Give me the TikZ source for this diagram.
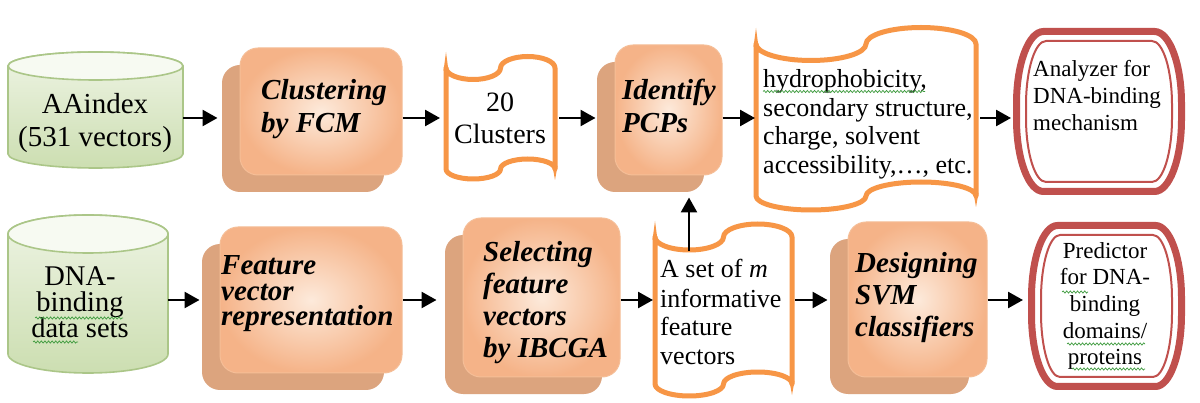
\documentclass[tikz,border=0pt]{standalone}
\usepackage{fontspec}
\setmainfont{Liberation Serif}
\usetikzlibrary{arrows.meta,shadows,decorations.pathmorphing}
\definecolor{peachIn}{HTML}{FDEADB}
\definecolor{peachOut}{HTML}{F5B388}
\definecolor{peachEdge}{HTML}{F5BE97}
\definecolor{shadowTan}{HTML}{DCA47E}
\definecolor{tapeOr}{HTML}{F79646}
\definecolor{redB}{HTML}{C0504D}
\definecolor{cylTop}{HTML}{EEF4E4}
\definecolor{cylBot}{HTML}{CCDEB1}
\definecolor{cylEdge}{HTML}{ABC688}
\definecolor{cylLid}{HTML}{F7FAF2}
\definecolor{spell}{HTML}{3C9A3C}

% cylinder: x0, x1, ytop, ybottom, ry
\newcommand\cylshape[5]{%
  \pgfmathsetmacro\ccx{(#1+#2)/2}%
  \pgfmathsetmacro\crx{(#2-#1)/2}%
  \pgfmathsetmacro\cyA{#3+#5}%
  \pgfmathsetmacro\cyB{#4-#5}%
  \path[draw=cylEdge,line width=1.6pt,top color=cylTop,bottom color=cylBot]
    (#1,\cyA) -- (#1,\cyB) arc[start angle=180,end angle=360,x radius=\crx pt,y radius=#5pt]
    -- (#2,\cyA) arc[start angle=0,end angle=180,x radius=\crx pt,y radius=#5pt] -- cycle;
  \path[draw=cylEdge,line width=1.6pt,fill=cylLid]
    (\ccx,\cyA) ellipse[x radius=\crx pt,y radius=#5pt];
}
% punched tape: x0, x1, ytop, ybottom, top amplitude, bottom amplitude
\newcommand\tapeshape[6]{%
  \pgfmathsetmacro\tq{(#2-#1)/4}%
  \draw[tapeOr,line width=5pt,line join=round]
    (#1,#3) arc[start angle=180,end angle=360,x radius=\tq pt,y radius=#5pt]
    arc[start angle=180,end angle=0,x radius=\tq pt,y radius=#5pt]
    -- (#2,#4) arc[start angle=0,end angle=180,x radius=\tq pt,y radius=#6pt]
    arc[start angle=0,end angle=-180,x radius=\tq pt,y radius=#6pt] -- cycle;
  \fill[tapeOr] (#1-2.5,#3+3) -- (#1,#3-16) -- (#1+2.5,#3+3) -- cycle;
  \fill[tapeOr] (#2-2.5,#4-3) -- (#2,#4+11) -- (#2+2.5,#4-3) -- cycle;
}
% barrel outline: style, x0, y0, x1, y1, rx, ry
\newcommand\barrelshape[7]{%
  \draw[#1] (#2+#6,#3) -- (#4-#6,#3)
    arc[start angle=90,end angle=0,x radius=#6pt,y radius=#7pt] -- (#4,#5-#7)
    arc[start angle=0,end angle=-90,x radius=#6pt,y radius=#7pt] -- (#2+#6,#5)
    arc[start angle=270,end angle=180,x radius=#6pt,y radius=#7pt] -- (#2,#3+#7)
    arc[start angle=180,end angle=90,x radius=#6pt,y radius=#7pt] -- cycle;
}

\begin{document}
\begin{tikzpicture}[x=1pt,y=-1pt,
  arr/.style={line width=2.6pt,-{Triangle[length=15pt,width=16pt]}},
  frontbox/.style={rounded corners=18pt,inner color=peachIn,outer color=peachOut,
    draw=peachEdge,line width=1pt,inner sep=0pt,
    general shadow={fill=shadowTan,shadow xshift=-18pt,shadow yshift=-17pt}},
  region/.style={inner sep=0pt,outer sep=0pt},
  boxtxt/.style={inner sep=0pt,anchor=base west,align=left,
    font=\bfseries\itshape\fontsize{29}{#1}\selectfont},
  spellwave/.style={draw=spell,line width=0.7pt,decorate,
    decoration={snake,amplitude=1.1pt,segment length=3.6pt}}]

\fill[white] (0,0) rectangle (1200,403);
\useasboundingbox (0,0) rectangle (1200,403);

% (text nodes are anchored at the baseline of their LAST line)
% ---------- top row ----------
\cylshape{8}{183}{52}{168}{14}
\node[region,minimum width=175pt,minimum height=116pt] (cylA) at (95.5,110) {};
\node[inner sep=0pt,align=center,anchor=base,font=\fontsize{29}{33}\selectfont] (cylAt) at (95,147) {AAindex\\(531 vectors)};

\node[frontbox,minimum width=162pt,minimum height=127pt] (clus) at (321,111.5) {};
\node[boxtxt=33] (clust) at (261,133) {Clustering\\by FCM};

\tapeshape{446}{555}{68}{169}{11.5}{10}
\node[region,minimum width=109pt,minimum height=123pt] (tapeA) at (500.5,117.5) {};
\node[inner sep=0pt,align=center,anchor=base,font=\fontsize{28}{32}\selectfont] (tapeAt) at (500,144) {20\\Clusters};

\node[frontbox,minimum width=107pt,minimum height=130pt] (ident) at (668.5,110) {};
\node[boxtxt=33] (identt) at (622,133) {Identify\\PCPs};

\tapeshape{756}{976}{44}{196}{16.5}{14}
\node[region,minimum width=220pt,minimum height=184pt] (tapeB) at (866,119) {};
\node[inner sep=0pt,align=left,anchor=base west,font=\fontsize{26}{28.4}\selectfont] (tapeBt) at (763,173.2)
  {hydrophobicity,\\secondary structure,\\charge, solvent\\accessibility,…, etc.};

\barrelshape{redB,line width=7pt}{1016.5}{31.5}{1181.5}{191.5}{27}{72}
\barrelshape{redB,line width=2pt}{1026}{41}{1172}{182}{20}{64}
\node[region,minimum width=172pt,minimum height=167pt] (anal) at (1099,111.5) {};
\node[inner sep=0pt,align=left,anchor=base west,font=\fontsize{23}{27}\selectfont] (analt) at (1033,131)
  {Analyzer for\\DNA-binding\\mechanism};

% ---------- bottom row ----------
\cylshape{8}{168}{215}{373}{19}
\node[region,minimum width=160pt,minimum height=158pt] (cylB) at (88,294) {};
\node[inner sep=0pt,align=center,anchor=base,font=\fontsize{28.5}{26.2}\selectfont] (cylBt) at (80,337.4) {DNA-\\binding\\data sets};

\node[frontbox,minimum width=182pt,minimum height=146pt] (feat) at (311,300) {};
\node[boxtxt=25.5] (featt) at (221,326) {Feature\\vector\\representation};

\node[frontbox,minimum width=157pt,minimum height=159pt] (sel) at (541.5,297.5) {};
\node[boxtxt=31.7] (selt) at (483,357.1) {Selecting\\feature\\vectors\\by IBCGA};

\tapeshape{655}{792}{237}{384}{13}{12}
\node[region,minimum width=137pt,minimum height=172pt] (tapeC) at (723.5,310) {};
\node[inner sep=0pt,align=left,anchor=base west,font=\fontsize{26}{29}\selectfont] (tapeCt) at (660,365)
  {A set of \textit{m}\\informative\\feature\\vectors};

\node[frontbox,minimum width=139pt,minimum height=155pt] (svm) at (917.5,299.5) {};
\node[boxtxt=32] (svmt) at (855,337) {Designing\\SVM\\classifiers};

\barrelshape{redB,line width=7pt}{1031.5}{225.5}{1181.5}{386.5}{26}{72}
\barrelshape{redB,line width=2pt}{1041}{235}{1172}{377}{19}{64}
\node[region,minimum width=157pt,minimum height=168pt] (pred) at (1106.5,306) {};
\node[inner sep=0pt,align=center,anchor=base,font=\fontsize{23}{26.7}\selectfont] (predt) at (1105,364.8)
  {Predictor\\for DNA-\\binding\\domains/\\proteins};

% ---------- spell-check underlines ----------
\draw[spellwave] (763,91.5) -- (925,91.5);
\draw[spellwave] (35,318) -- (123,318);
\draw[spellwave] (33,342) -- (78,342);
\draw[spellwave] (1062,292) -- (1088,292);
\draw[spellwave] (1067,344) -- (1145,344);
\draw[spellwave] (1072,369) -- (1145,369);

% ---------- connectors ----------
\draw[arr,shorten >=22pt] ([yshift=-8pt]cylA.east) -- ([yshift=-8pt]cylA.east -| clus.west);
\draw[arr,shorten >=6pt] ([yshift=-6.5pt]clus.east) -- ([yshift=-6.5pt]clus.east -| tapeA.west);
\draw[arr,shorten <=4pt,shorten >=19pt] ([yshift=-0.5pt]tapeA.east) -- ([yshift=-0.5pt]tapeA.east -| ident.west);
\draw[arr,shorten >=1pt] ([yshift=-8pt]ident.east) -- ([yshift=-8pt]ident.east -| tapeB.west);
\draw[arr,shorten <=4pt,shorten >=2pt] ([yshift=1pt]tapeB.east) -- ([yshift=1pt]tapeB.east -| anal.west);

\draw[arr,shorten >=20pt] ([yshift=-6pt]cylB.east) -- ([yshift=-6pt]cylB.east -| feat.west);
\draw[arr,shorten >=26pt] (feat.east) -- (feat.east -| sel.west);
\draw[arr,shorten >=2pt] ([yshift=-2.5pt]sel.east) -- ([yshift=-2.5pt]sel.east -| tapeC.west);
\draw[arr,shorten <=3pt,shorten >=20pt] ([yshift=10pt]tapeC.east) -- ([yshift=10pt]tapeC.east -| svm.west);
\draw[arr,shorten >=5pt] ([yshift=-0.5pt]svm.east) -- ([yshift=-0.5pt]svm.east -| pred.west);

\coordinate (upstart) at ([xshift=-34.5pt,yshift=-27pt]tapeC.north);
\draw[arr,shorten >=22pt] (upstart) -- (upstart |- ident.south);
\end{tikzpicture}
\end{document}
